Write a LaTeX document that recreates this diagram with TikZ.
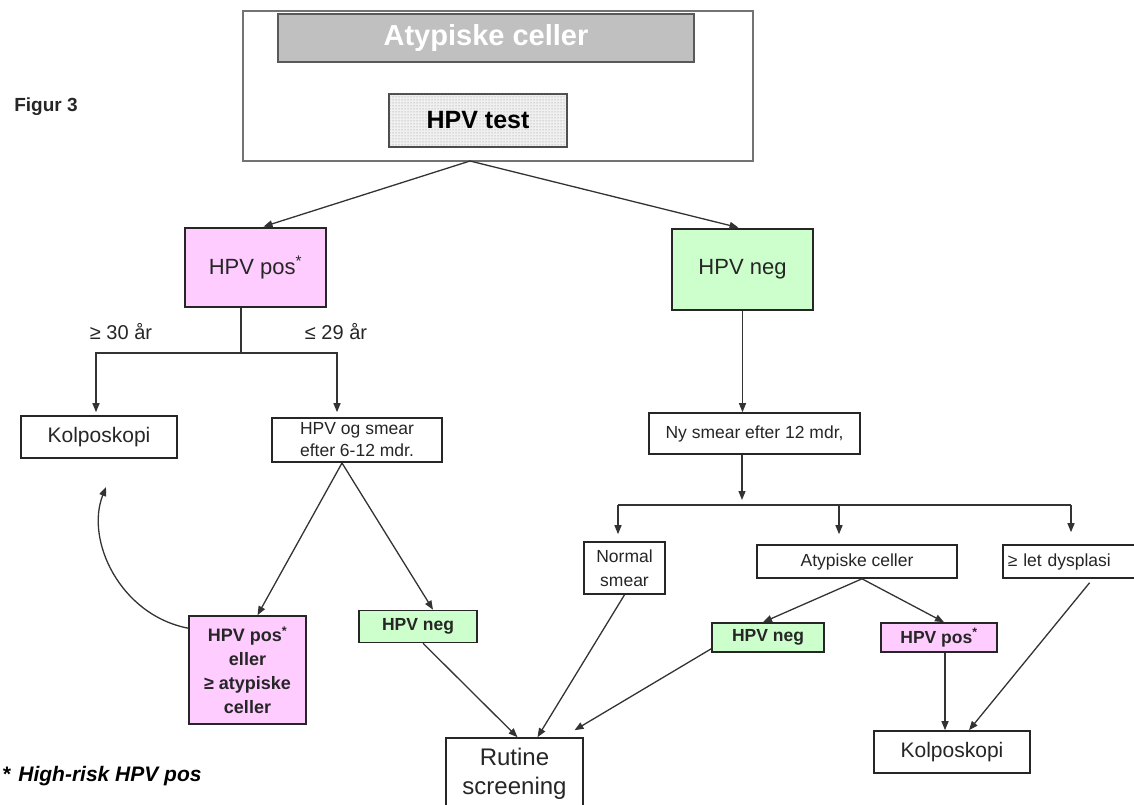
\documentclass[tikz,border=0pt]{standalone}
\usepackage{fontspec}
\setmainfont{Liberation Sans}
\usetikzlibrary{arrows.meta,patterns}
\definecolor{pinkbg}{HTML}{FFCCFF}
\definecolor{greenbg}{HTML}{CCFFCC}
\definecolor{barfill}{HTML}{C0C0C0}

\begin{document}
\begin{tikzpicture}[x=1pt,y=-1pt,
    box/.style={draw=black!85, line width=1.6pt, fill=white, inner sep=2pt, align=center, text=black!85},
    thickbox/.style={box, line width=2.8pt},
    arr/.style={draw=black!80, line width=1.3pt, -{Triangle[length=9pt,width=7pt]}},
    link/.style={draw=black!80, line width=1.3pt},
    reg/.style={font=\fontsize{17.5}{24}\selectfont},
    bld/.style={font=\fontsize{17.5}{24}\selectfont\bfseries}]
\useasboundingbox (0,0) rectangle (1134,805);
\clip (0,0) rectangle (1134,805);

% top block
\node[draw=black!55, line width=1.8pt, fill=white, minimum width=510pt, minimum height=150pt] (top) at (498,86) {};
\node[draw=black!65, line width=1.6pt, fill=barfill, minimum width=416pt, minimum height=48pt,
      text=white, font=\fontsize{29}{32}\selectfont\bfseries] (bar) at (486,38) {Atypiske celler};
\node[draw=black!70, line width=1.4pt, fill=gray!12, postaction={pattern=dots, pattern color=black!45},
      minimum width=178pt, minimum height=53pt, font=\fontsize{25}{28}\selectfont\bfseries] (hpvtest) at (478,120.5) {HPV test};
\node[font=\fontsize{19}{22}\selectfont\bfseries, text=black!85] (figur) at (46,107) {Figur 3};

% first split
\node[thickbox, fill=pinkbg, minimum width=141pt, minimum height=79pt, font=\fontsize{22}{26}\selectfont] (hpvpos) at (255.5,267.5) {HPV pos\textsuperscript{*}};
\node[thickbox, fill=greenbg, minimum width=141pt, minimum height=81pt, font=\fontsize{22}{26}\selectfont] (hpvneg) at (742.5,269.5) {HPV neg};

% left branch
\node[font=\fontsize{20}{24}\selectfont, text=black!85] (age30) at (121,332) {≥ 30 år};
\node[font=\fontsize{20}{24}\selectfont, text=black!85] (age29) at (336,332) {≤ 29 år};
\node[box, minimum width=156pt, minimum height=42pt, font=\fontsize{21}{24}\selectfont] (kolpo1) at (99,437) {Kolposkopi};
\node[box, reg, minimum width=170pt, minimum height=44pt, font=\fontsize{17.5}{22}\selectfont] (smear6) at (357,440) {HPV og smear\\efter 6-12 mdr.};
\node[box, bld, fill=pinkbg, minimum width=117pt, minimum height=108pt, font=\fontsize{18}{24}\selectfont\bfseries] (poseller) at (247.5,670) {HPV pos\textsuperscript{*}\\eller\\≥ atypiske\\celler};
\node[box, bld, fill=greenbg, minimum width=118pt, minimum height=32pt] (negsmall) at (418,626.5) {HPV neg};
\node[box, minimum width=137pt, minimum height=72pt, font=\fontsize{24}{29}\selectfont] (rutine) at (514.5,774) {Rutine\\screening};

% right branch
\node[box, reg, minimum width=211pt, minimum height=41pt] (nysmear) at (754.5,433.5) {Ny smear efter 12 mdr,};
\node[box, reg, minimum width=81pt, minimum height=52pt] (normal) at (624.5,568) {Normal\\smear};
\node[box, reg, minimum width=200pt, minimum height=33pt] (atyp2) at (857,561.5) {Atypiske celler};
\node[box, reg, anchor=west, minimum width=146pt, minimum height=33pt, text width=136pt, inner xsep=5pt, align=left] (dysp) at (1002,561.5) {≥ let dysplasi};
\node[box, bld, fill=greenbg, minimum width=112pt, minimum height=29pt] (neg2) at (768,637.5) {HPV neg};
\node[box, bld, fill=pinkbg, minimum width=116pt, minimum height=29pt] (pos2) at (939,637.5) {HPV pos\textsuperscript{*}};
\node[box, minimum width=156pt, minimum height=42pt, font=\fontsize{21}{24}\selectfont] (kolpo2) at (952,752) {Kolposkopi};

% footnote
\node[anchor=west, inner sep=0pt, font=\fontsize{21}{24}\selectfont\bfseries\itshape] (note) at (2,776) {*\hspace{8pt}High-risk HPV pos};

% fork points
\coordinate (topsplit) at (470,161);
\coordinate (posfork) at (241,353);
\coordinate (smearfork) at (342,463);
\coordinate (loopend) at (106,487);
\coordinate (nyfork) at (742,505);
\coordinate (brL) at (618,505);
\coordinate (brM) at (839,505);
\coordinate (brR) at (1071,505);

% connectors
\draw[arr] (topsplit) -- ([xshift=8pt]hpvpos.north);
\draw[arr] (topsplit) -- ([xshift=-4pt]hpvneg.north);
\draw[link] (hpvpos.south -| posfork) -- (posfork);
\draw[arr] (posfork) -| ([xshift=-3pt,yshift=3pt]kolpo1.north);
\draw[arr] (posfork) -| ([xshift=-20pt,yshift=5pt]smear6.north);
\draw[arr] (smearfork) -- ([xshift=10pt]poseller.north);
\draw[arr] (smearfork) -- ([xshift=15pt]negsmall.north);
\draw[arr] ([yshift=-13pt]poseller.north west) .. controls (120,615) and (85,540) .. (loopend);
\draw[arr] ([xshift=5pt]negsmall.south) -- ([xshift=3pt]rutine.north);
\draw[arr] (normal.south) -- ([xshift=23pt]rutine.north);
\draw[arr] ([yshift=4pt]neg2.south west) -- ([xshift=60pt,yshift=7pt]rutine.north);
\draw[arr] (hpvneg.south) -- (hpvneg.south |- nysmear.north);
\draw[arr] (nysmear.south -| nyfork) -- ([yshift=5pt]nyfork);
\draw[link] (brL) -- (brR);
\draw[arr, shorten >=7pt] (brL) -- (brL |- normal.north);
\draw[arr, shorten >=10pt] (brM) -- (brM |- atyp2.north);
\draw[arr, shorten >=12pt] (brR) -- (brR |- dysp.north);
\draw[arr] ([xshift=5pt]atyp2.south) -- ([xshift=-5pt]neg2.north);
\draw[arr] ([xshift=5pt]atyp2.south) -- ([xshift=5pt]pos2.north);
\draw[arr] ([xshift=6pt]pos2.south) -- ([xshift=6pt]pos2.south |- kolpo2.north);
\draw[arr, shorten <=5pt] ([xshift=17pt]dysp.south) -- ([xshift=17pt]kolpo2.north);
\end{tikzpicture}
\end{document}
